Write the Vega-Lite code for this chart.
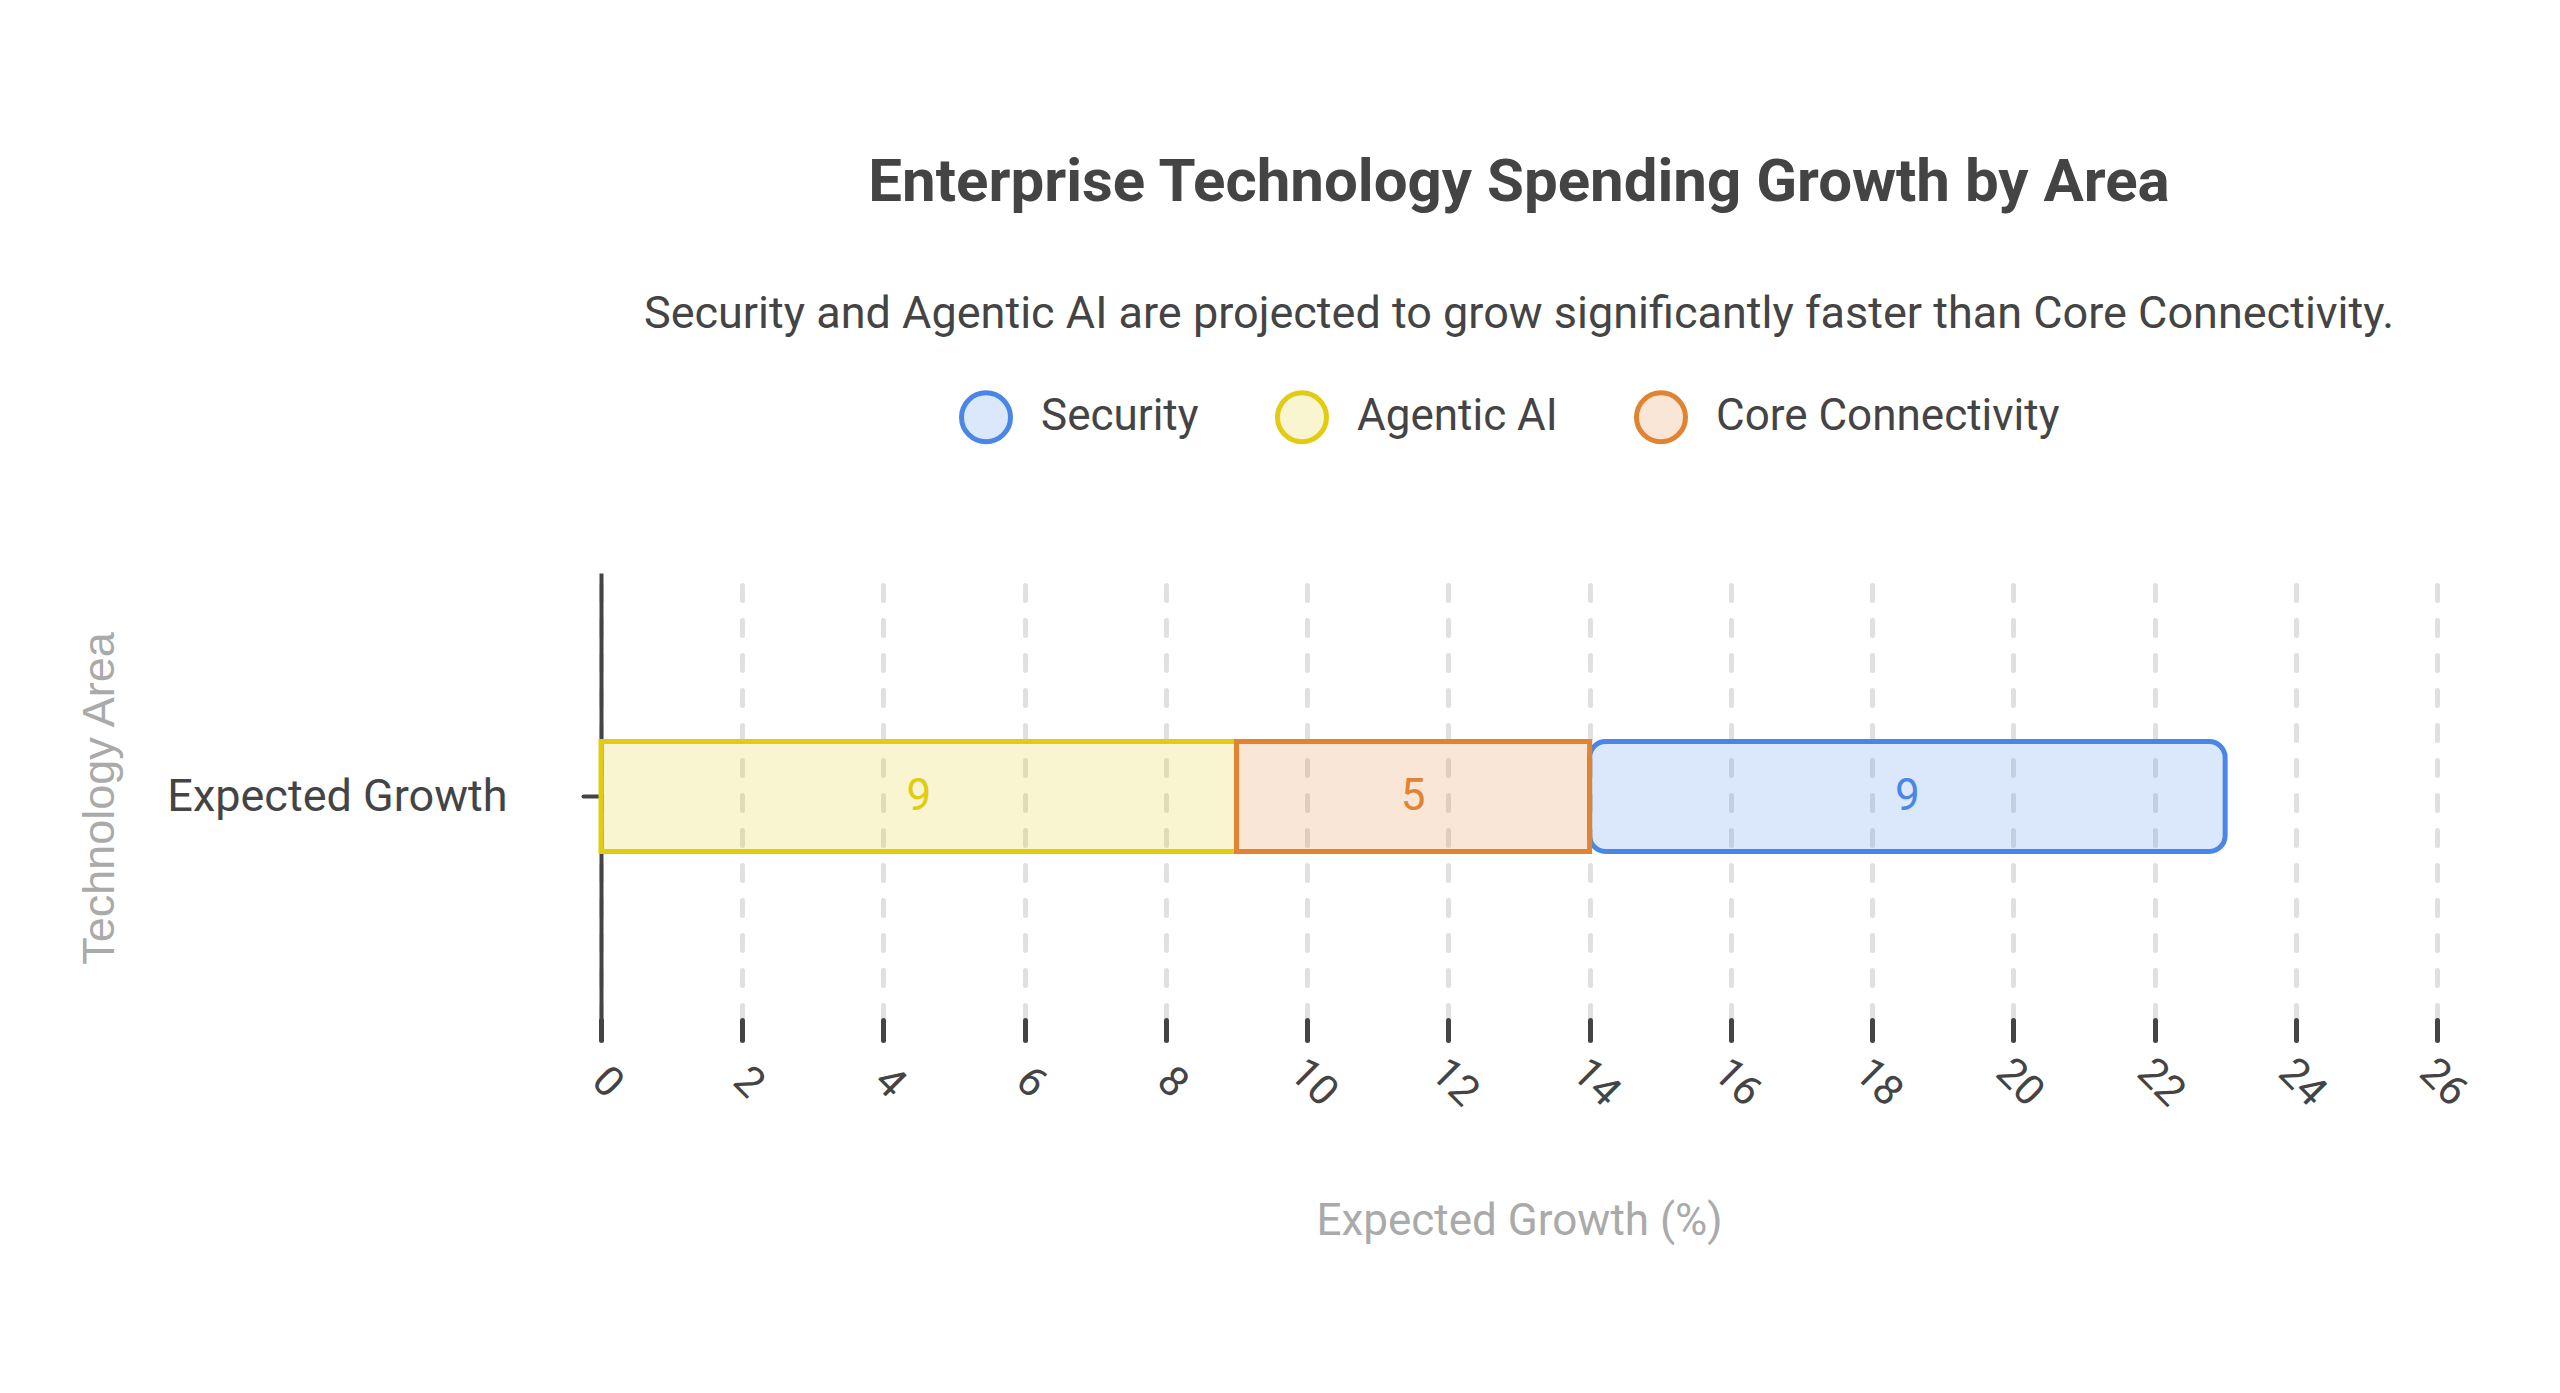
{
  "$schema": "https://vega.github.io/schema/vega-lite/v6.json",
  "autosize": {"type": "none"},
  "width": 1836,
  "height": 447,
  "padding": {"left": 601, "top": 573, "right": 123, "bottom": 373},
  "background": "white",
  "config": {"view": {"stroke": null}},
  "title": {
    "text": "Enterprise Technology Spending Growth by Area",
    "subtitle": "Security and Agentic AI are projected to grow significantly faster than Core Connectivity.",
    "anchor": "middle",
    "font": "Roboto",
    "fontSize": 60,
    "fontWeight": "bold",
    "color": "#444444",
    "subtitleFont": "Roboto",
    "subtitleFontSize": 45,
    "subtitleColor": "#444444",
    "subtitlePadding": 78,
    "offset": 52
  },
  "data": {
    "values": [
      {"row": "Expected Growth", "area": "Agentic AI", "growth": 9, "order": 1},
      {"row": "Expected Growth", "area": "Core Connectivity", "growth": 5, "order": 2},
      {"row": "Expected Growth", "area": "Security", "growth": 9, "order": 3}
    ]
  },
  "transform": [
    {"stack": "growth", "groupby": ["row"], "sort": [{"field": "order"}], "as": ["g0", "g1"]},
    {"calculate": "(datum.g0 + datum.g1) / 2", "as": "gmid"}
  ],
  "encoding": {
    "y": {
      "field": "row",
      "type": "nominal",
      "title": "Technology Area",
      "axis": {
        "domain": true,
        "domainColor": "#444444",
        "domainWidth": 4,
        "ticks": true,
        "tickColor": "#444444",
        "tickWidth": 4,
        "tickSize": 18,
        "tickCap": "round",
        "labelFont": "Roboto",
        "labelFontSize": 45,
        "labelColor": "#444444",
        "labelPadding": 76,
        "labelLimit": 0,
        "titleFont": "Liberation Sans",
        "titleFontSize": 45,
        "titleFontWeight": "normal",
        "titleColor": "#aaaaaa",
        "titleX": -524,
        "titleY": 225,
        "titleAngle": -90,
        "titleAlign": "center",
        "titleBaseline": "top",
        "grid": false
      }
    }
  },
  "layer": [
    {
      "transform": [{"filter": "datum.area == 'Security'"}],
      "mark": {"type": "bar", "height": 110, "strokeWidth": 5, "cornerRadiusEnd": 16},
      "encoding": {
        "x": {
          "field": "g0",
          "type": "quantitative",
          "title": "Expected Growth (%)",
          "scale": {"domain": [0, 26]},
          "axis": {
            "domain": false,
            "grid": true,
            "gridColor": "#e0e0e0",
            "gridWidth": 5,
            "gridDash": [15, 20],
            "gridCap": "round",
            "ticks": true,
            "tickColor": "#444444",
            "tickWidth": 5,
            "tickSize": 20,
            "tickCap": "round",
            "values": [0, 2, 4, 6, 8, 10, 12, 14, 16, 18, 20, 22, 24, 26],
            "format": "d",
            "labelAngle": 45,
            "labelAlign": "center",
            "labelBaseline": "middle",
            "labelPadding": 42,
            "labelOffset": 6,
            "labelFont": "Roboto",
            "labelFontSize": 42,
            "labelColor": "#444444",
            "titleFont": "Roboto",
            "titleFontSize": 44,
            "titleFontWeight": "normal",
            "titleColor": "#aaaaaa",
            "titlePadding": 86
          }
        },
        "x2": {"field": "g1"},
        "fill": {
          "field": "area",
          "type": "nominal",
          "scale": {
            "domain": ["Security", "Agentic AI", "Core Connectivity"],
            "range": ["rgba(74,134,232,0.2)", "rgba(226,203,18,0.2)", "rgba(224,132,50,0.2)"]
          },
          "legend": {
            "title": null,
            "orient": "none",
            "direction": "horizontal",
            "legendX": 358,
            "legendY": -183,
            "symbolType": "circle",
            "symbolSize": 2400,
            "symbolStrokeWidth": 5,
            "labelFont": "Roboto",
            "labelFontSize": 44,
            "labelColor": "#444444",
            "labelLimit": 0,
            "labelOffset": 28,
            "columnPadding": 68
          }
        },
        "stroke": {
          "field": "area",
          "type": "nominal",
          "scale": {
            "domain": ["Security", "Agentic AI", "Core Connectivity"],
            "range": ["#4a86e8", "#e2cb12", "#e08432"]
          },
          "legend": {
            "title": null,
            "orient": "none",
            "direction": "horizontal",
            "legendX": 358,
            "legendY": -183,
            "symbolType": "circle",
            "symbolSize": 2400,
            "symbolStrokeWidth": 5,
            "labelFont": "Roboto",
            "labelFontSize": 44,
            "labelColor": "#444444",
            "labelLimit": 0,
            "labelOffset": 28,
            "columnPadding": 68
          }
        }
      }
    },
    {
      "transform": [{"filter": "datum.area != 'Security'"}],
      "mark": {"type": "bar", "height": 110, "strokeWidth": 5},
      "encoding": {
        "x": {"field": "g0", "type": "quantitative"},
        "x2": {"field": "g1"},
        "fill": {"field": "area", "type": "nominal"},
        "stroke": {"field": "area", "type": "nominal"}
      }
    },
    {
      "mark": {"type": "text", "font": "Roboto", "fontSize": 44, "baseline": "middle", "align": "center"},
      "encoding": {
        "x": {"field": "gmid", "type": "quantitative"},
        "text": {"field": "growth", "type": "quantitative"},
        "color": {
          "field": "area",
          "type": "nominal",
          "scale": {
            "domain": ["Security", "Agentic AI", "Core Connectivity"],
            "range": ["#4a86e8", "#e2cb12", "#e08432"]
          },
          "legend": null
        }
      }
    }
  ]
}
